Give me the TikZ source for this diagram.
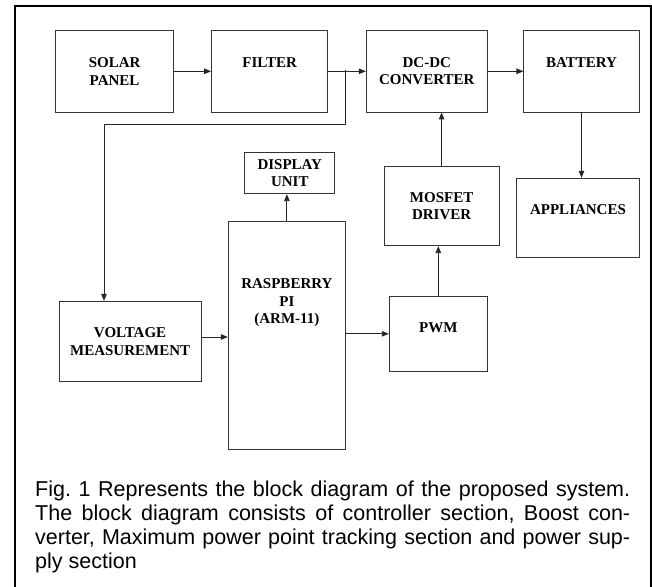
\documentclass[tikz,border=0pt]{standalone}
\usepackage{fontspec}
\setmainfont{Liberation Serif}
\newfontfamily\capfont{Liberation Sans}
\usetikzlibrary{arrows.meta}
\frenchspacing

\begin{document}
\begin{tikzpicture}[x=1pt, y=-1pt,
	blk/.style={draw=black!80, line width=0.9pt, inner sep=0pt, align=center,
		font=\bfseries\fontsize{15}{17.6}\selectfont},
	wire/.style={draw=black!85, line width=0.9pt, -{Triangle[length=7pt, width=5.5pt]}}]
	\useasboundingbox (0,0) rectangle (652,586);
	% Frame:
	\draw[line width=1.8pt] (15,600) |- (651,6) -- (651,600);
	% Blocks:
	\node[blk, minimum width=118.5, minimum height=81.3] (solar) at (114.6,71.3) {SOLAR\\PANEL};
	\node[blk, minimum width=116.1, minimum height=81.3] (filter) at (269.6,71.3) {FILTER\\\mbox{}};
	\node[blk, minimum width=121, minimum height=81.3] (dcdc) at (426.8,71.3) {DC-DC\\CONVERTER};
	\node[blk, minimum width=115.2, minimum height=81.3] (battery) at (581.5,71.3) {BATTERY\\\mbox{}};
	\node[blk, minimum width=89.8, minimum height=41.4] (display) at (289.8,173) {DISPLAY\\UNIT};
	\node[blk, minimum width=114.8, minimum height=79.4] (mosfet) at (441.6,206) {MOSFET\\DRIVER};
	\node[blk, minimum width=122.3, minimum height=79.4] (appl) at (578,218) {APPLIANCES\\\mbox{}};
	\node[blk, minimum width=117.2, minimum height=227.3,
		label={[blk, draw=none, anchor=north, yshift=-57]north:RASPBERRY\\PI\\(ARM-11)}] (rpi) at (286.9,335.3) {};
	\node[blk, minimum width=98.1, minimum height=74.3] (pwm) at (438.3,333.8) {PWM\\[-5pt]\mbox{}};
	\node[blk, minimum width=142.2, minimum height=80.4] (volt) at (130.1,341.5) {VOLTAGE\\MEASUREMENT};
	% Connectors:
	\coordinate (tap) at (345,69.7);
	\coordinate (bend) at (104,124);
	\draw[wire] (solar.east) -- (filter.west);
	\draw[wire] (filter.east) -- (dcdc.west);
	\draw[wire] (dcdc.east) -- (battery.west);
	\draw[wire] (tap) |- (bend) -- (bend |- volt.north);
	\draw[wire] (battery.south) -- (battery.south |- appl.north);
	\draw[wire] (mosfet.north) -- (mosfet.north |- dcdc.south);
	\draw[wire] (pwm.north) -- (pwm.north |- mosfet.south);
	\draw[wire] (rpi.north) -- (rpi.north |- display.south);
	\draw[wire] ([yshift=4.5]volt.east) -- ([yshift=4.5]volt.east -| rpi.west);
	\draw[wire] (pwm.west -| rpi.east) -- (pwm.west);
	% Caption:
	\node[anchor=north west, inner sep=0pt, text width=595, align=justify,
		font=\capfont\fontsize{21.5}{24}\selectfont] (caption) at (35,481)
		{Fig. 1 Represents the block diagram of the proposed system.\linebreak
		The block diagram consists of controller section, Boost con-\linebreak
		verter, Maximum power point tracking section and power sup-\linebreak
		ply section};
\end{tikzpicture}
\end{document}
